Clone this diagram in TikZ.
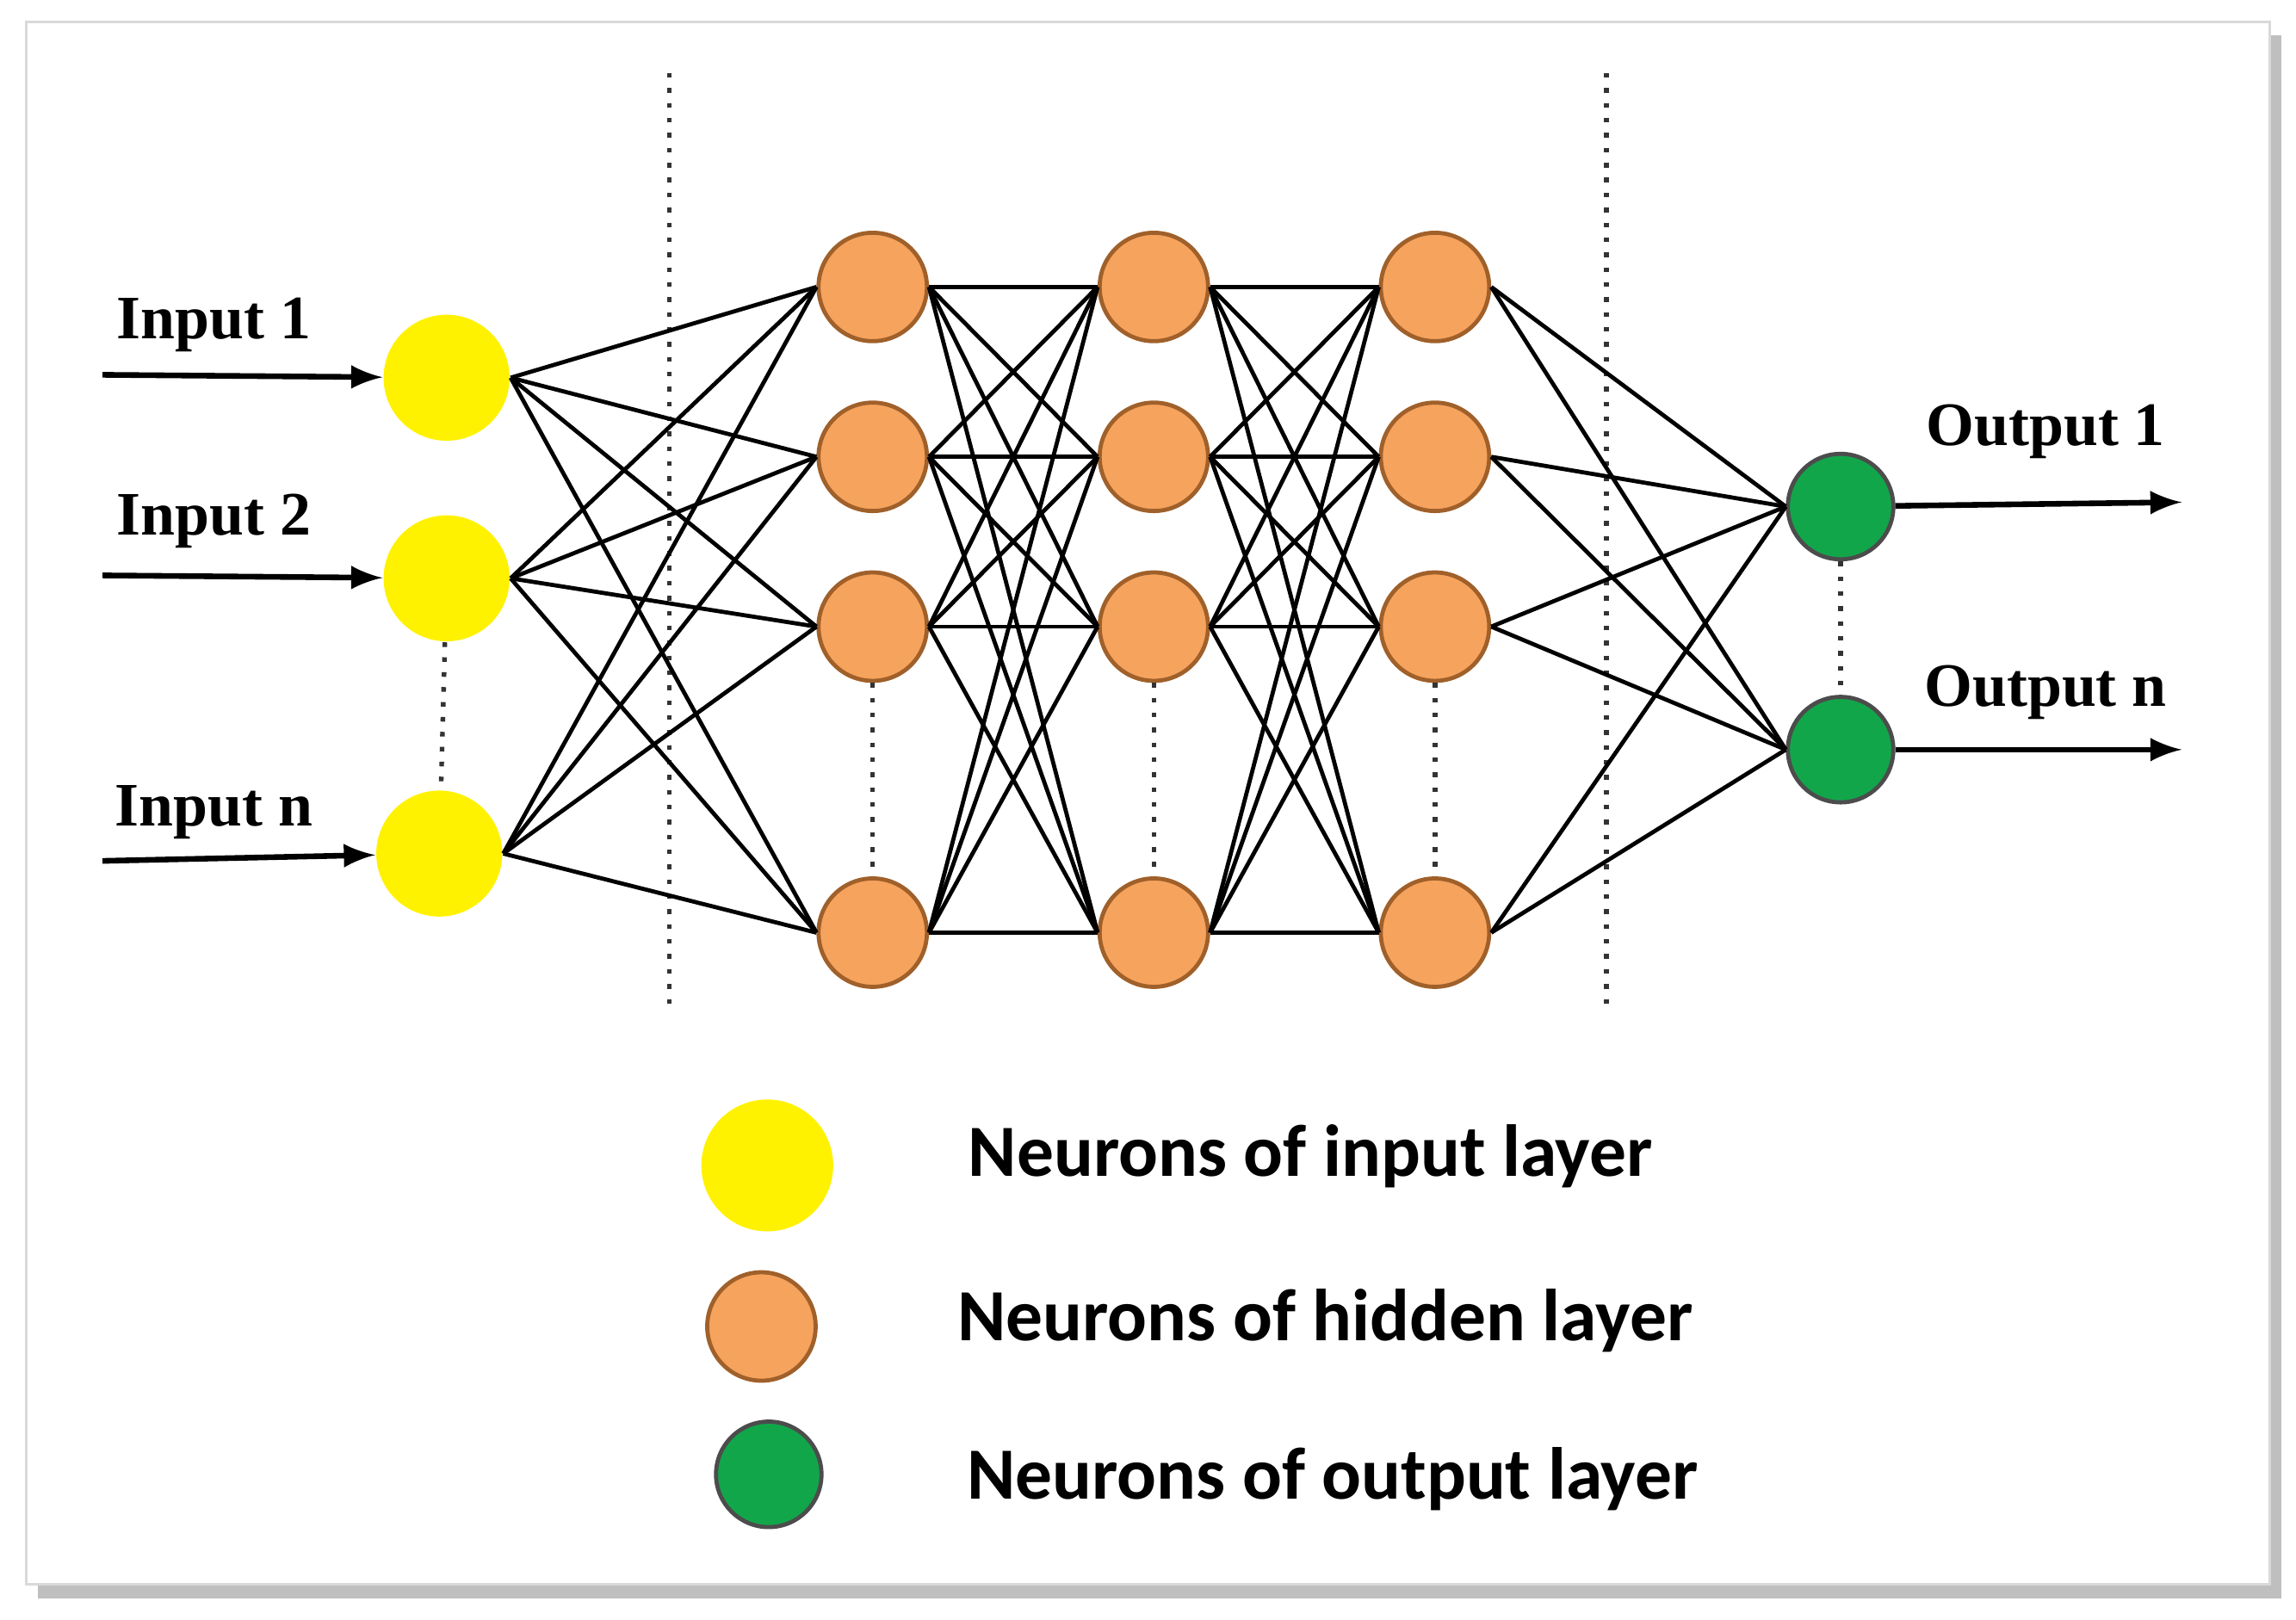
\documentclass[tikz,border=0pt]{standalone}
\usepackage{fontspec}
\newfontfamily\legfont{Carlito}
\newfontfamily\labfont{Liberation Serif}
\definecolor{yel}{HTML}{FFF200}
\definecolor{org}{HTML}{F6A35E}
\definecolor{orgd}{HTML}{A0602A}
\definecolor{grn}{HTML}{12A64A}
\begin{document}
\begin{tikzpicture}[x=0.01cm,y=-0.01cm,
  inn/.style={circle,fill=yel,minimum size=0.86cm,inner sep=0},
  hid/.style={circle,fill=org,draw=orgd,line width=0.8pt,minimum size=0.74cm,inner sep=0},
  outn/.style={circle,fill=grn,draw=black!70,line width=0.8pt,minimum size=0.72cm,inner sep=0},
  con/.style={line width=0.8pt,black},
  dots/.style={dotted,line width=0.9pt,black!80},
  arr/.style={-latex,line width=1.1pt},
  lab/.style={font=\labfont\bfseries\fontsize{12}{14}\selectfont},
  leg/.style={font=\legfont\bfseries\fontsize{14.3}{17}\selectfont}]
\useasboundingbox (0,0) rectangle (1568,1106);
\fill[black!25] (26,24) rectangle (1558,1092);
\fill[white,draw=black!15] (18,15) rectangle (1550,1082);
\draw[dots] (457,50) -- (457,692);
\draw[dots] (1097,50) -- (1097,692);
\node[inn] (i1) at (305,258) {};
\node[inn] (i2) at (305,395) {};
\node[inn] (i3) at (300,583) {};
\foreach \c/\x in {a/596,b/788,c/980}{
  \node[hid] (\c1) at (\x,196) {};
  \node[hid] (\c2) at (\x,312) {};
  \node[hid] (\c3) at (\x,428) {};
  \node[hid] (\c4) at (\x,637) {};
  \draw[dots] (\c3) -- (\c4);
}
\node[outn] (o1) at (1257,346) {};
\node[outn] (o2) at (1257,512) {};
\draw[dots] (i2) -- (i3);
\draw[dots] (o1) -- (o2);
\foreach \i in {i1,i2,i3}{\foreach \j in {a1,a2,a3,a4}{\draw[con] (\i.east) -- (\j.west);}}
\foreach \i in {a1,a2,a3,a4}{\foreach \j in {b1,b2,b3,b4}{\draw[con] (\i.east) -- (\j.west);}}
\foreach \i in {b1,b2,b3,b4}{\foreach \j in {c1,c2,c3,c4}{\draw[con] (\i.east) -- (\j.west);}}
\foreach \i in {c1,c2,c3,c4}{\foreach \j in {o1,o2}{\draw[con] (\i.east) -- (\j.west);}}
\coordinate (s1) at (70,256); \coordinate (s2) at (70,393); \coordinate (s3) at (70,588);
\draw[arr] (s1) -- (i1); \draw[arr] (s2) -- (i2); \draw[arr] (s3) -- (i3);
\coordinate (e1) at (1490,343); \coordinate (e2) at (1490,512);
\draw[arr] (o1) -- (e1); \draw[arr] (o2) -- (e2);
\node[lab] (l1) at (146,222) {Input 1};
\node[lab] (l2) at (146,356) {Input 2};
\node[lab] (l3) at (146,555) {Input n};
\node[lab] (l4) at (1397,295) {Output 1};
\node[lab] (l5) at (1397,473) {Output n};
\node[inn,minimum size=0.9cm] (g1) at (524,796) {};
\node[hid] (g2) at (520,906) {};
\node[outn] (g3) at (525,1007) {};
\node[leg] (t1) at (895,790) {Neurons of input layer};
\node[leg] (t2) at (905,902) {Neurons of hidden layer};
\node[leg] (t3) at (910,1010) {Neurons of output layer};
\end{tikzpicture}
\end{document}
